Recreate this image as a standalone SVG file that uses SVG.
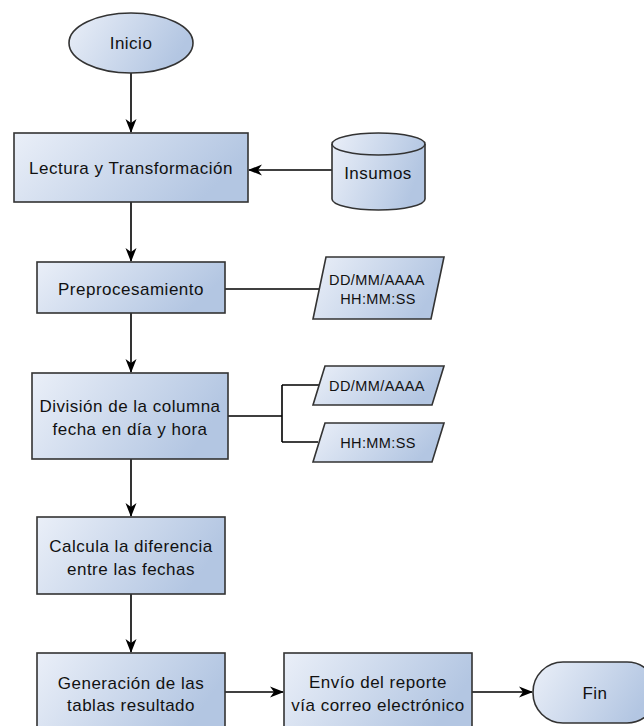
<svg xmlns="http://www.w3.org/2000/svg" width="644" height="726" viewBox="0 0 644 726">
<style>
.shape{fill:url(#g);stroke:#333;stroke-width:1.6}
.t{font-family:"Liberation Sans",Arial,sans-serif;font-size:17px;letter-spacing:0.5px;fill:#111;text-anchor:middle;dominant-baseline:central}
.s{font-family:"Liberation Sans",Arial,sans-serif;font-size:14.5px;letter-spacing:0.4px;fill:#111;text-anchor:middle;dominant-baseline:central}
.c{fill:none;stroke:#000;stroke-width:1.6}
.a{marker-end:url(#arr)}
</style>
<defs>
<linearGradient id="g" x1="0" y1="0" x2="1" y2="0.3">
<stop offset="0" stop-color="#eaeff8"/>
<stop offset="1" stop-color="#b3c6e2"/>
</linearGradient>
<marker id="arr" viewBox="0 0 14 12" refX="13" refY="6" markerWidth="14" markerHeight="12" markerUnits="userSpaceOnUse" orient="auto">
<path d="M0,0.5 L14,6 L0,11.5 L4,6 Z" fill="#000"/>
</marker>
</defs>
<g id="connectors">
<path class="c a" d="M131,73 V132"/>
<path class="c a" d="M332,170 H249"/>
<path class="c a" d="M131,202 V261"/>
<path class="c" d="M225,289 H320"/>
<path class="c a" d="M131,313 V372"/>
<path class="c" d="M228,416 H282 M282,385 V442 M282,385 H320 M282,442 H318"/>
<path class="c a" d="M131,459 V516"/>
<path class="c a" d="M131,594 V652"/>
<path class="c a" d="M225,692 H283"/>
<path class="c a" d="M472,692 H532"/>
</g>
<g id="inicio">
<ellipse class="shape" cx="131" cy="43" rx="62" ry="30"/>
<text class="t" x="131" y="43">Inicio</text>
</g>
<g id="lectura">
<rect class="shape" x="14" y="133" width="234" height="69"/>
<text class="t" x="131" y="168">Lectura y Transformación</text>
</g>
<g id="insumos">
<path class="shape" d="M332,144 A46.5,11 0 0 1 425,144 V199 A46.5,11 0 0 1 332,199 Z"/>
<path d="M332,144 A46.5,11 0 0 0 425,144" fill="none" stroke="#333" stroke-width="1.6"/>
<text class="t" x="378" y="173">Insumos</text>
</g>
<g id="preprocesamiento">
<rect class="shape" x="37" y="262" width="188" height="51"/>
<text class="t" x="131" y="289">Preprocesamiento</text>
</g>
<g id="formato">
<path class="shape" d="M326,257 H444 L431,319 H313 Z"/>
<text class="s" x="377" y="280">DD/MM/AAAA</text>
<text class="s" x="378" y="299">HH:MM:SS</text>
</g>
<g id="division">
<rect class="shape" x="32" y="373" width="196" height="86"/>
<text class="t" x="130" y="406">División de la columna</text>
<text class="t" x="130" y="429">fecha en día y hora</text>
</g>
<g id="fecha">
<path class="shape" d="M325,366 H444 L432,405 H313 Z"/>
<text class="s" x="377" y="386">DD/MM/AAAA</text>
</g>
<g id="hora">
<path class="shape" d="M325,423 H444 L432,462 H313 Z"/>
<text class="s" x="378" y="443">HH:MM:SS</text>
</g>
<g id="calcula">
<rect class="shape" x="37" y="517" width="188" height="77"/>
<text class="t" x="131" y="546">Calcula la diferencia</text>
<text class="t" x="131" y="569">entre las fechas</text>
</g>
<g id="generacion">
<rect class="shape" x="37" y="653" width="188" height="78"/>
<text class="t" x="131" y="683">Generación de las</text>
<text class="t" x="131" y="705">tablas resultado</text>
</g>
<g id="envio">
<rect class="shape" x="284" y="653" width="188" height="78"/>
<text class="t" x="378" y="682">Envío del reporte</text>
<text class="t" x="378" y="705">vía correo electrónico</text>
</g>
<g id="fin">
<rect class="shape" x="533" y="662" width="124" height="61" rx="30" ry="30"/>
<text class="t" x="595" y="693">Fin</text>
</g>
</svg>
